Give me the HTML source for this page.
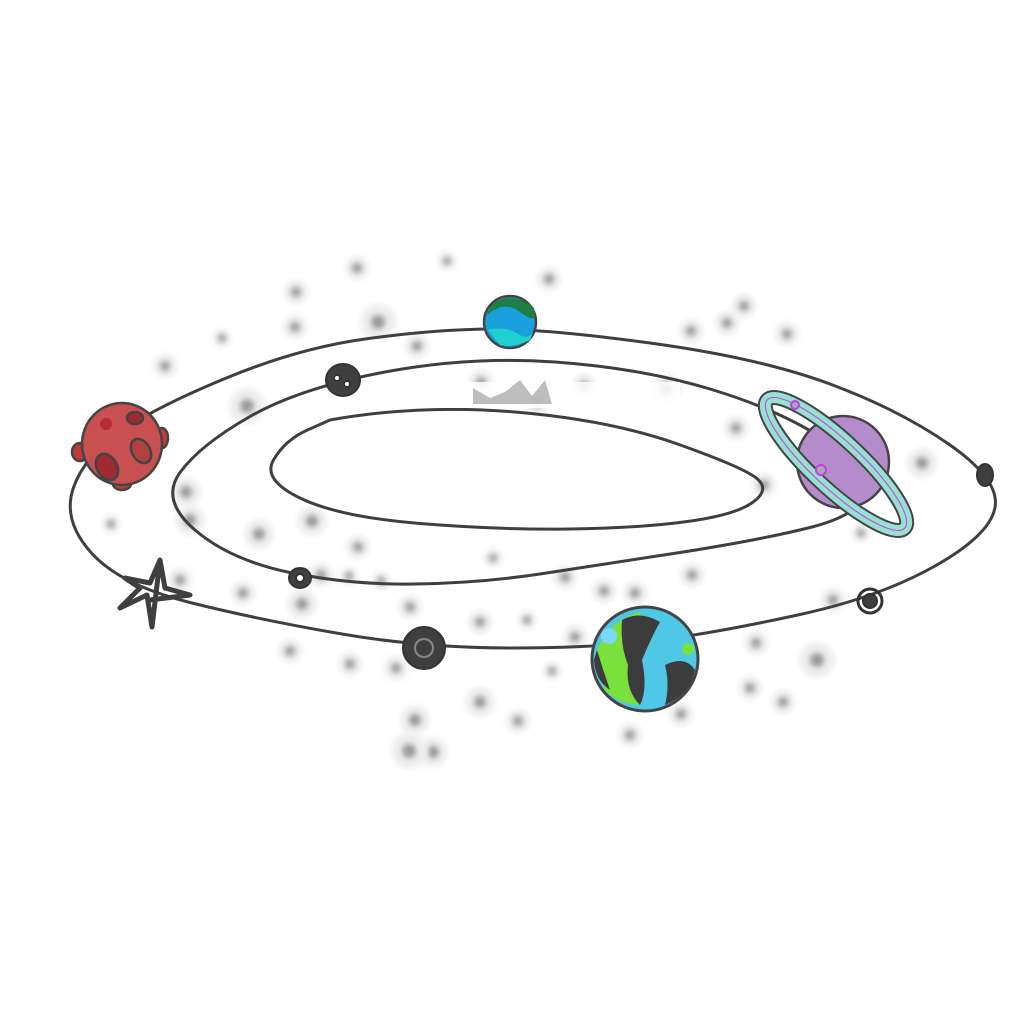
<!DOCTYPE html>
<html><head><meta charset="utf-8"><style>html,body{margin:0;background:#fff}svg{display:block}</style></head>
<body>
<svg id="scene" width="1024" height="1024" viewBox="0 0 1024 1024" xmlns="http://www.w3.org/2000/svg">
<defs>
<filter id="blur" x="-100%" y="-100%" width="300%" height="300%"><feGaussianBlur stdDeviation="3"/></filter>
</defs>
<g id="stars"></g>
<g fill="none" stroke="#3f3f3f" stroke-width="3" stroke-linecap="round">
<path id="outer"/>
<path id="middle"/>
<path id="inner"/>
</g>
<rect x="380" y="382" width="300" height="26" fill="#fff" opacity="0.85"/>
<path d="M473,404 L473,388 L490,398 L505,392 L520,380 L532,396 L545,380 L552,404 Z" fill="#888" opacity="0.55"/>
<!-- red planet -->
<g stroke="#444" stroke-width="2.5">
<ellipse cx="80" cy="452" rx="8" ry="9" fill="#c0393b"/>
<ellipse cx="162" cy="438" rx="6" ry="10" fill="#c0393b"/>
<ellipse cx="122" cy="484" rx="9" ry="6" fill="#c0393b"/>
<ellipse cx="122" cy="444" rx="40" ry="41" fill="#c85050"/>
<ellipse cx="107" cy="467" rx="10" ry="14" fill="#a02a30" transform="rotate(-30 107 467)"/>
<ellipse cx="141" cy="451" rx="9" ry="13" fill="#b24040" transform="rotate(-30 141 451)"/>
<ellipse cx="135" cy="418" rx="8" ry="6" fill="#a02a30"/>
<circle cx="106" cy="424" r="6" fill="#b02c36" stroke="none"/>
</g>
<!-- small teal planet -->
<g>
<circle cx="510" cy="322" r="26" fill="#1aa0dc" stroke="#444" stroke-width="2.5"/>
<path d="M487,315 Q505,300 520,312 Q530,320 535,318 L534,308 Q520,296 505,298 Q490,302 487,315Z" fill="#1e7e46"/>
<path d="M488,330 Q505,325 520,335 Q528,340 533,332 L530,340 Q515,348 500,345Z" fill="#20d0d0"/>
</g>
<!-- saturn -->
<g>
<circle cx="843" cy="462" r="46" fill="#b48ccc" stroke="#444" stroke-width="2.5"/>
<ellipse cx="836" cy="464" rx="94" ry="24" fill="none" stroke="#444" stroke-width="15" transform="rotate(43 836 464)"/>
<ellipse cx="836" cy="464" rx="94" ry="24" fill="none" stroke="#98e0d4" stroke-width="11" transform="rotate(43 836 464)"/>
<ellipse cx="836" cy="464" rx="94" ry="24" fill="none" stroke="#c040d0" stroke-width="1" transform="rotate(43 836 464)"/>
<path d="M800,435 A46,46 0 0 1 889,462 A46,46 0 0 1 870,500" fill="#b48ccc" stroke="#444" stroke-width="2.5" opacity="0"/>
<circle cx="821" cy="470" r="5" fill="#aaa" stroke="#c040e0" stroke-width="2"/>
<circle cx="795" cy="405" r="4" fill="#aaa" stroke="#c040e0" stroke-width="2"/>
</g>
<!-- earth -->
<g>
<ellipse cx="645" cy="659" rx="53" ry="52" fill="#4ec8e6" stroke="#444" stroke-width="3"/>
<path d="M597,650 Q610,620 640,612 Q650,640 635,660 Q630,690 640,705 Q620,705 605,690 Q595,670 597,650Z" fill="#7ae03c"/>
<path d="M622,620 Q640,610 660,622 Q650,640 642,660 Q648,690 640,705 Q625,690 628,665 Q620,645 622,620Z" fill="#3c3c3c"/>
<path d="M665,665 Q685,655 695,670 Q690,695 665,705 Q670,685 665,665Z" fill="#3c3c3c"/>
<path d="M597,650 Q603,670 610,690 Q595,680 594,660Z" fill="#3c3c3c"/>
<circle cx="609" cy="636" r="8" fill="#7ad8f2"/>
<circle cx="688" cy="649" r="6" fill="#7ae03c"/>
</g>
<!-- rocks -->
<g fill="#3f3f3f" stroke="#333" stroke-width="2">
<ellipse cx="343" cy="380" rx="17" ry="16"/>
<circle cx="337" cy="378" r="3" fill="#fff"/><circle cx="347" cy="384" r="3" fill="#fff"/>
<ellipse cx="985" cy="475" rx="8" ry="11"/>
<circle cx="870" cy="601" r="12" fill="none" stroke-width="3"/><circle cx="870" cy="601" r="7"/>
<ellipse cx="300" cy="578" rx="11" ry="10"/><circle cx="300" cy="578" r="4" fill="#fff"/>
<circle cx="424" cy="648" r="21"/><circle cx="424" cy="648" r="9" fill="none" stroke="#888"/>
</g>
<path d="M160,560 L152,627 L147,595 L120,608 L140,588 L125,578 L150,583 L160,560 L165,588 L190,595 L150,600" fill="none" stroke="#3f3f3f" stroke-width="5" stroke-linejoin="round"/>
</svg>
<script>
const starX=[357,447,549,296,222,295,378,417,481,584,666,744,691,727,787,165,247,186,111,190,259,312,349,358,381,410,480,527,565,604,635,692,736,764,833,861,922,180,243,302,321,290,350,396,415,433,409,480,518,552,575,630,681,750,783,817,756,537,493];
const starY=[268,261,279,292,338,327,322,346,382,386,389,306,331,323,334,366,406,492,524,520,534,521,576,547,581,607,622,620,577,591,593,575,428,485,600,533,463,580,593,604,575,651,664,668,720,752,751,702,721,671,637,735,714,688,702,660,643,402,558];
const starR=[4,3,4,4,3,4,6,4,4,4,5,4,4,4,4,4,6,5,3,5,5,5,3,4,3,4,4,3,4,4,4,4,4,4,4,3,5,4,4,5,4,4,4,4,5,5,6,5,4,3,4,4,4,4,4,6,4,4,3];
const sg=document.getElementById('stars');
for(let i=0;i<starX.length;i++){
 const h=document.createElementNS('http://www.w3.org/2000/svg','circle');
 
 
 h.setAttribute('cx',starX[i]);h.setAttribute('cy',starY[i]);h.setAttribute('r',starR[i]*3);
 h.setAttribute('fill','#eee');h.setAttribute('filter','url(#blur)');sg.appendChild(h);
 const c=document.createElementNS('http://www.w3.org/2000/svg','circle');
 
 
 c.setAttribute('cx',starX[i]);c.setAttribute('cy',starY[i]);c.setAttribute('r',starR[i]+1);
 c.setAttribute('fill','#999');c.setAttribute('filter','url(#blur)');sg.appendChild(c);
}
function smooth(p,closed){
 let n=p.length,d='';
 const mid=(a,b)=>[(a[0]+b[0])/2,(a[1]+b[1])/2];
 if(closed){let m=mid(p[n-1],p[0]);d='M'+m;for(let i=0;i<n;i++){const q=p[i],m2=mid(q,p[(i+1)%n]);d+=' Q'+q+' '+m2;}return d;}
 d='M'+p[0];for(let i=1;i<n-1;i++){d+=' Q'+p[i]+' '+mid(p[i],p[i+1]);}d+=' L'+p[n-1];return d;
}
document.getElementById('outer').setAttribute('d',smooth([[540,328],[760,358],[900,410],[1000,480],[990,535],[880,597],[720,632],[600,648],[424,648],[260,620],[120,585],[62,520],[85,455],[160,405],[300,348],[430,330]],true));
document.getElementById('middle').setAttribute('d',smooth([[470,356],[640,368],[780,410],[870,470],[860,515],[760,540],[600,565],[480,583],[350,585],[230,560],[160,500],[200,445],[300,388]],true));
document.getElementById('inner').setAttribute('d',smooth([[330,420],[420,404],[610,420],[745,468],[770,490],[735,515],[640,528],[500,530],[340,517],[262,480],[285,440],[330,420]],false));
</script>
</body></html>
